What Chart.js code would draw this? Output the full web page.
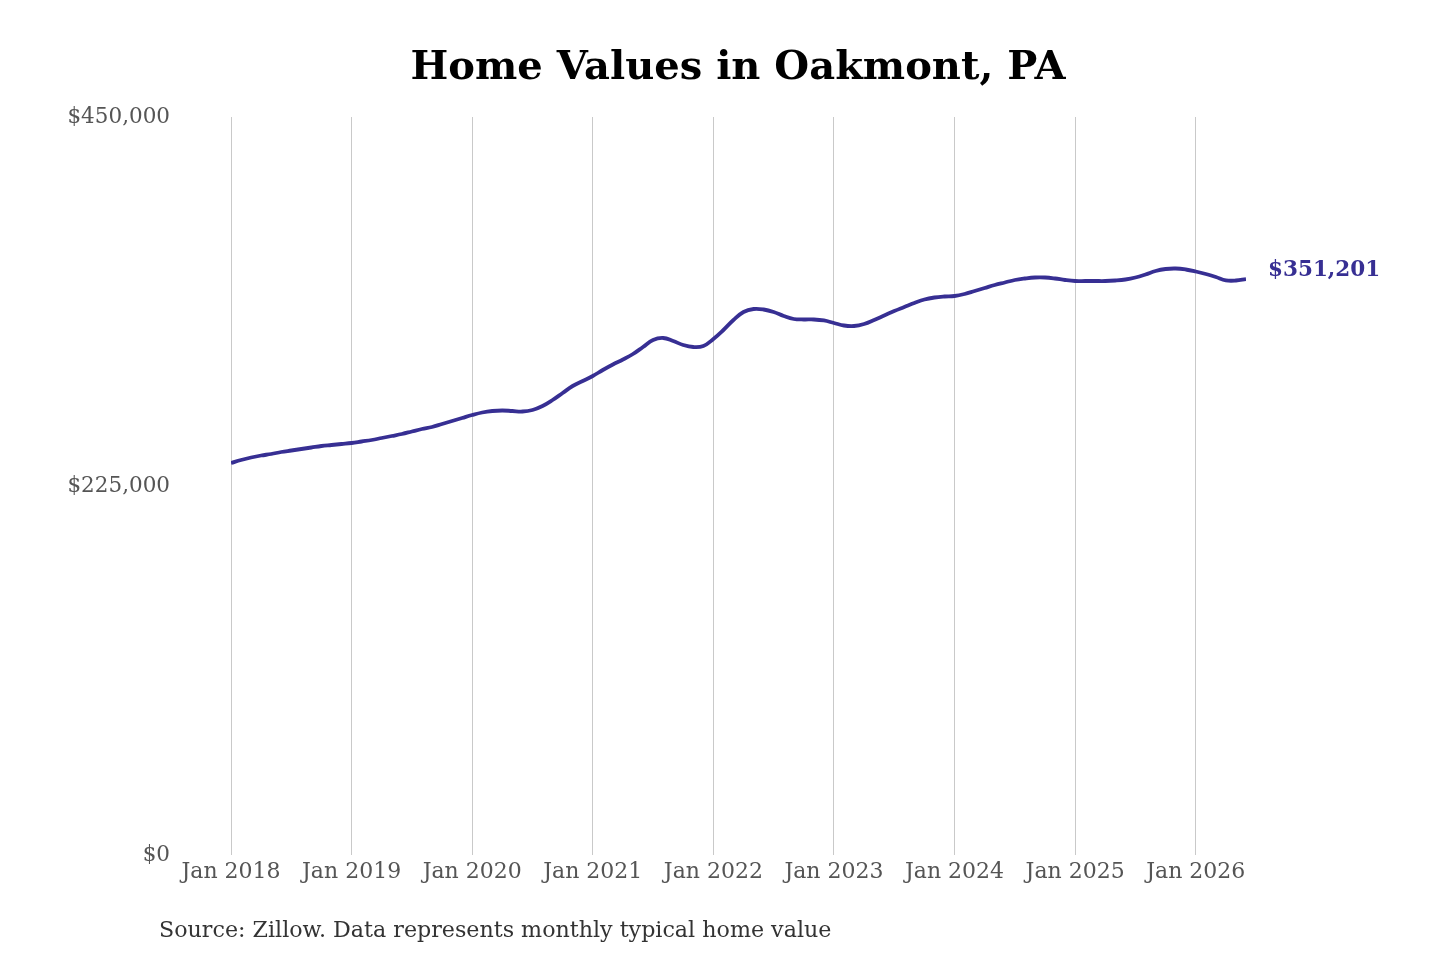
<!DOCTYPE html>
<html>
<head>
<meta charset="utf-8">
<script src="https://cdn.jsdelivr.net/npm/chart.js@4.4.1/dist/chart.umd.min.js"></script>
<style>
  html, body { margin: 0; padding: 0; background: #ffffff; }
  #wrap { position: relative; width: 1440px; height: 960px; }
  canvas { display: block; }
</style>
</head>
<body>
<div id="wrap"><canvas id="c" width="1440" height="960"></canvas></div>
<script>
// ---- Data (monthly typical home value, Jan 2018 – Jun 2026) ----
const startYear = 2018;
const monthNames = ["Jan","Feb","Mar","Apr","May","Jun","Jul","Aug","Sep","Oct","Nov","Dec"];
const values2018 = [239026, 240855, 242380, 243599, 244514, 245733, 246648, 247563, 248477, 249392, 250002, 250611];
const values2019 = [251221, 252136, 253050, 254270, 255489, 256709, 258233, 259758, 260977, 262807, 264636, 266465];
const values2020 = [268294, 269819, 270733, 271038, 270733, 270429, 271343, 273782, 277441, 281709, 285977, 289026];
const values2021 = [292075, 295734, 299087, 302136, 305490, 309758, 314026, 315246, 313417, 310978, 309758, 310368];
const values2022 = [314636, 320124, 326222, 331100, 332929, 332624, 331100, 328661, 326831, 326526, 326526, 325917];
const values2023 = [324392, 322868, 322563, 323783, 326222, 328966, 331709, 334148, 336588, 338722, 339941, 340551];
const values2024 = [340856, 342075, 343905, 345734, 347563, 349088, 350612, 351527, 352136, 352136, 351527, 350612];
const values2025 = [350002, 350002, 350002, 350002, 350307, 350917, 352136, 353966, 356100, 357319, 357624, 357014];
const values2026 = [355795, 354271, 352441, 350400, 350300, 351201];
const yTicks = [0, 225000, 450000];
const titleText = "Home Values in Oakmont, PA";
const sourceText = "Source: Zillow. Data represents monthly typical home value";

const values = [].concat(values2018, values2019, values2020, values2021, values2022,
                         values2023, values2024, values2025, values2026);
const labels = values.map((v, i) => monthNames[i % 12] + " " + (startYear + Math.floor(i / 12)));
const points = values.map((v, i) => ({ x: i, y: v }));
const janIdx = values.map((v, i) => i).filter(i => i % 12 === 0);

const lineColor = "#372f93";
const serif = "'DejaVu Serif', serif";

const textPlugin = {
  id: "textPlugin",
  afterDatasetsDraw(chart) {
    const ctx = chart.ctx;
    const meta = chart.getDatasetMeta(0);
    const last = meta.data[meta.data.length - 1];
    const lastVal = values[values.length - 1];
    ctx.save();
    ctx.fillStyle = lineColor;
    ctx.font = "bold 21.5px " + serif;
    ctx.textAlign = "left";
    ctx.textBaseline = "middle";
    ctx.fillText("$" + lastVal.toLocaleString("en-US"), last.x + 22, last.y - 9);
    ctx.restore();
  },
  afterDraw(chart) {
    const ctx = chart.ctx;
    ctx.save();
    ctx.fillStyle = "#000000";
    ctx.font = "bold 40px " + serif;
    ctx.textAlign = "center";
    ctx.textBaseline = "middle";
    ctx.fillText(titleText, 738, 69);
    ctx.fillStyle = "#333333";
    ctx.font = "22.2px " + serif;
    ctx.textAlign = "left";
    ctx.fillText(sourceText, 159, 931);
    ctx.restore();
  }
};

new Chart(document.getElementById("c"), {
  type: "line",
  data: {
    labels: labels,
    datasets: [{
      data: points,
      borderColor: lineColor,
      borderWidth: 3.8,
      pointRadius: 0,
      pointHoverRadius: 0,
      fill: false,
      tension: 0.4
    }]
  },
  options: {
    responsive: false,
    animation: false,
    devicePixelRatio: 1,
    layout: { padding: { top: 117, right: 194, bottom: 65, left: 0 } },
    plugins: { legend: { display: false }, tooltip: { enabled: false }, title: { display: false } },
    scales: {
      x: {
        type: "linear",
        min: 0,
        max: values.length - 1,
        afterBuildTicks(scale) { scale.ticks = janIdx.map(v => ({ value: v })); },
        afterFit(scale) { scale.height = 40; },
        ticks: {
          autoSkip: false,
          maxRotation: 0,
          padding: 4,
          color: "#555555",
          font: { family: serif, size: 22 },
          callback: (v) => labels[v]
        },
        grid: { display: true, color: "#c9c9c9", lineWidth: 1, drawTicks: false },
        border: { display: false }
      },
      y: {
        min: 0,
        max: 450000,
        afterBuildTicks(scale) { scale.ticks = yTicks.map(v => ({ value: v })); },
        afterFit(scale) { scale.width = 231; },
        ticks: {
          padding: 53,
          color: "#555555",
          font: { family: serif, size: 21.5 },
          callback: (v) => "$" + Number(v).toLocaleString("en-US")
        },
        grid: { display: false },
        border: { display: false }
      }
    }
  },
  plugins: [textPlugin]
});
</script>
</body>
</html>
